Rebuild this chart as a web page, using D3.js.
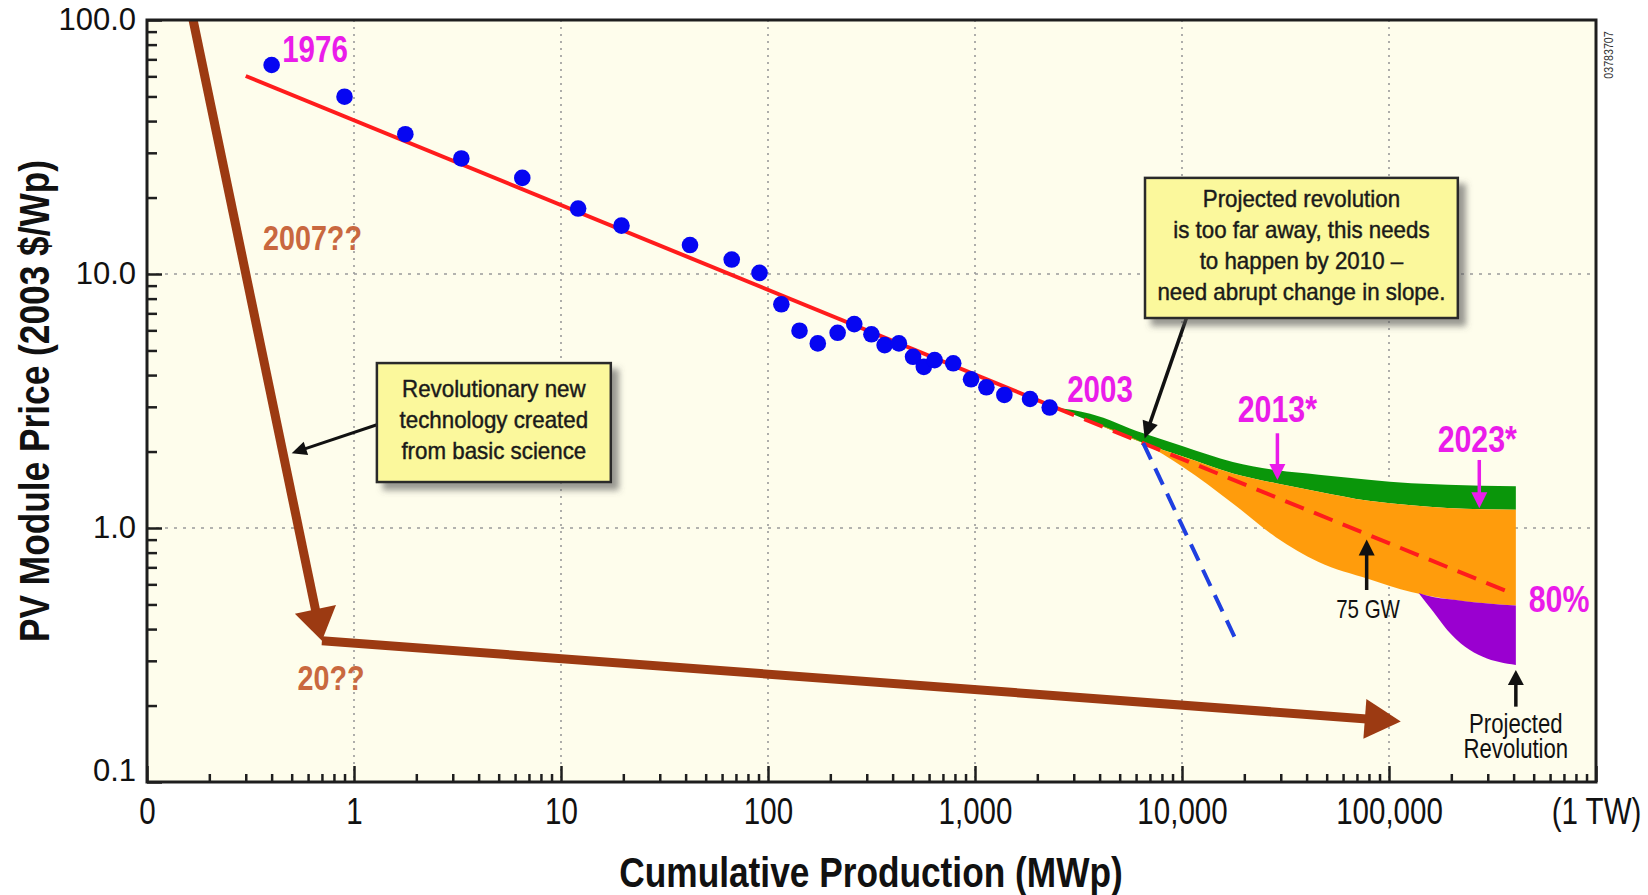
<!DOCTYPE html>
<html>
<head>
<meta charset="utf-8">
<script src="https://cdn.jsdelivr.net/npm/d3@7"></script>
<style>
  body { margin: 0; background: #fff; }
  svg { display: block; }
  text { font-family: "Liberation Sans", Arial, sans-serif; }
</style>
</head>
<body>
<svg id="chart" width="1648" height="895"></svg>
<script>
// historical module prices (blue dots), MWp vs 2003 $/Wp
const cum_mw = [0.40, 0.90, 1.77, 3.3, 6.5, 12.1, 19.6, 42, 66.8, 91, 116, 142, 174, 217, 261,
    316, 366, 429, 502, 566, 638, 785, 957, 1135, 1386, 1845, 2295];
const price = [66.5, 49.9, 35.5, 28.5, 23.9, 18.1, 15.5, 13.0, 11.4, 10.1, 7.6, 5.98, 5.33, 5.87, 6.35,
    5.79, 5.25, 5.33, 4.72, 4.31, 4.58, 4.45, 3.85, 3.58, 3.34, 3.22, 2.98];

// 80% experience curve
const fit_solid = [[0.3, 60.2], [2450, 2.98]];
const fit_dashed = [[2450, 2.98], [400000, 0.55]];

// the "abrupt change" line
const steep_line = [[6500, 2.16], [18000, 0.37]];

// projection bands
const proj_x = [2450, 3600, 6500, 10100, 17600, 28400, 45700, 79700, 128000, 191000, 410000];
const green_top = [2.98, 2.82, 2.36, 2.10, 1.82, 1.69, 1.62, 1.55, 1.50, 1.48, 1.46];
const orange_top = [2.98, 2.63, 2.16, 1.91, 1.64, 1.50, 1.39, 1.28, 1.23, 1.20, 1.18];
const orange_bottom = [2.98, 2.63, 2.16, 1.74, 1.25, 0.92, 0.735, 0.63, 0.56, 0.525, 0.495];

const rev_x = [139000, 163000, 191000, 233000, 284000, 410000];
const rev_top = [0.555, 0.535, 0.525, 0.515, 0.507, 0.495];
const rev_bottom = [0.555, 0.47, 0.397, 0.341, 0.311, 0.289];

// brown "revolution" path: drop, then the new curve
const rev_path = [[0.167, 100], [0.70, 0.36], [114000, 0.173]];

const x_ticks = [0.1, 1, 10, 100, 1e3, 1e4, 1e5, 1e6];
const x_tick_labels = ["0", "1", "10", "100", "1,000", "10,000", "100,000", "(1 TW)"];
const y_ticks = [0.1, 1, 10, 100];
const y_tick_labels = ["0.1", "1.0", "10.0", "100.0"];

const magenta = "#ea1cea";
const brown_text = "#c9683f";
const brown = "#9c3a12";

const svg = d3.select("svg#chart");

const x = d3.scaleLog().domain([0.1, 1e6]).range([147, 1596]);
const y = d3.scaleLog().domain([0.1, 100]).range([782, 20]);
const [x_left, x_right] = x.range();
const [y_bottom, y_top] = y.range();

const defs = svg.append("defs");
defs.append("filter").attr("id", "shadow")
    .attr("x", "-10%").attr("y", "-10%").attr("width", "130%").attr("height", "140%")
    .append("feDropShadow")
    .attr("dx", 7).attr("dy", 7).attr("stdDeviation", 3)
    .attr("flood-color", "#555").attr("flood-opacity", 0.6);
defs.append("clipPath").attr("id", "plot-clip").append("rect")
    .attr("x", x_left).attr("y", y_top)
    .attr("width", x_right - x_left).attr("height", y_bottom - y_top);

// background
svg.append("rect")
    .attr("x", x_left).attr("y", y_top)
    .attr("width", x_right - x_left).attr("height", y_bottom - y_top)
    .attr("fill", "#fefdec");

// dotted grid
const grid = svg.append("g").attr("stroke", "#9a9a9a").attr("stroke-width", 1.6);
grid.selectAll("line.v")
    .data(x_ticks.slice(1, -1))
    .join("line")
    .attr("x1", d => x(d)).attr("x2", d => x(d))
    .attr("y1", y_top).attr("y2", y_bottom)
    .attr("stroke-dasharray", "2,5");
grid.selectAll("line.h")
    .data(y_ticks.slice(1, -1))
    .join("line")
    .attr("y1", d => y(d)).attr("y2", d => y(d))
    .attr("x1", x_left).attr("x2", x_right)
    .attr("stroke-dasharray", "3,6");

const plot = svg.append("g").attr("clip-path", "url(#plot-clip)");

// projection bands
const band = (xs, top, bottom) => d3.area()
    .x((_, i) => x(xs[i]))
    .y0((_, i) => y(bottom[i]))
    .y1((_, i) => y(top[i]))
    .curve(d3.curveMonotoneX)(xs);

plot.append("path").attr("d", band(proj_x, green_top, orange_top)).attr("fill", "#0a960a");
plot.append("path").attr("d", band(proj_x, orange_top, orange_bottom)).attr("fill", "#ff9c0c");
plot.append("path").attr("d", band(rev_x, rev_top, rev_bottom)).attr("fill", "#9a00d0");

// fit lines
const line = d3.line().x(d => x(d[0])).y(d => y(d[1]));
plot.append("path").attr("d", line(fit_solid))
    .attr("fill", "none").attr("stroke", "#ff1c1c").attr("stroke-width", 4);
plot.append("path").attr("d", line(fit_dashed))
    .attr("fill", "none").attr("stroke", "#ff1c1c").attr("stroke-width", 4)
    .attr("stroke-dasharray", "20,11");
plot.append("path").attr("d", line(steep_line))
    .attr("fill", "none").attr("stroke", "#1f3fe0").attr("stroke-width", 4)
    .attr("stroke-dasharray", "18,10");

// historical points
plot.selectAll("circle")
    .data(cum_mw)
    .join("circle")
    .attr("cx", d => x(d))
    .attr("cy", (_, i) => y(price[i]))
    .attr("r", 8.3)
    .attr("fill", "#0606f2");

// arrows: line up to the head, then a filled head
function arrow(g, from, to, color, width, head, half) {
    const x0 = x(from[0]), y0 = y(from[1]);
    const x1 = x(to[0]), y1 = y(to[1]);
    const len = Math.hypot(x1 - x0, y1 - y0);
    const ux = (x1 - x0) / len, uy = (y1 - y0) / len;
    const bx = x1 - ux * head, by = y1 - uy * head;
    g.append("line")
        .attr("x1", x0).attr("y1", y0)
        .attr("x2", bx + ux * 2).attr("y2", by + uy * 2)
        .attr("stroke", color).attr("stroke-width", width);
    g.append("path")
        .attr("d", `M${x1},${y1}L${bx - uy * half},${by + ux * half}L${bx + uy * half},${by - ux * half}Z`)
        .attr("fill", color);
}

const arrows = plot.append("g");
arrow(arrows, rev_path[0], rev_path[1], brown, 9, 32, 21);
arrow(arrows, rev_path[1], rev_path[2], brown, 9, 36, 20);

arrow(arrows, [1.29, 2.55], [0.50, 1.97], "#111", 3, 15, 7);
arrow(arrows, [10500, 6.7], [6600, 2.25], "#111", 3.5, 17, 8);
arrow(arrows, [78000, 0.57], [78000, 0.90], "#111", 3.5, 16, 8);
arrow(arrows, [410000, 0.198], [410000, 0.276], "#111", 3.5, 15, 8);
arrow(arrows, [28900, 2.36], [28900, 1.545], magenta, 3.5, 16, 8);
arrow(arrows, [273000, 1.853], [273000, 1.196], magenta, 3.5, 16, 8);

// callout boxes
function callout(from, to, lines, first, step) {
    const bx = x(from[0]), by = y(from[1]);
    const bw = x(to[0]) - bx, bh = y(to[1]) - by;
    const g = svg.append("g");
    g.append("rect")
        .attr("x", bx).attr("y", by).attr("width", bw).attr("height", bh)
        .attr("fill", "#fbf89c").attr("stroke", "#2a2a2a").attr("stroke-width", 2.5)
        .attr("filter", "url(#shadow)");
    g.selectAll("text")
        .data(lines)
        .join("text")
        .attr("class", "box-text")
        .attr("x", bx + bw / 2)
        .attr("y", (_, i) => by + first + i * step)
        .attr("text-anchor", "middle")
        .attr("font-size", 24)
        .attr("fill", "#1a1a1a")
        .attr("stroke", "#1a1a1a").attr("stroke-width", 0.45)
        .text(d => d);
}
callout([1.29, 4.46], [17.4, 1.517],
    ["Revolutionary new", "technology created", "from basic science"], 34, 31);
callout([6627, 23.9], [215000, 6.71],
    ["Projected revolution", "is too far away, this needs", "to happen by 2010 \u2013", "need abrupt change in slope."], 29, 31);

// year and rate labels
const tag = (txt, at, color, size) => svg.append("text")
    .attr("class", "narrow")
    .attr("x", x(at[0])).attr("y", y(at[1]))
    .attr("text-anchor", "middle")
    .attr("font-weight", "bold")
    .attr("font-size", size)
    .attr("fill", color)
    .text(txt);
tag("1976", [0.648, 68.5], magenta, 36);
tag("2007??", [0.63, 12.4], brown_text, 35);
tag("20??", [0.774, 0.230], brown_text, 35);
tag("2003", [4018, 3.14], magenta, 36);
tag("2013*", [28900, 2.62], magenta, 37);
tag("2023*", [267000, 2.00], magenta, 37);
tag("80%", [663000, 0.468], magenta, 37);

const note = (txt, at, size) => svg.append("text")
    .attr("class", "narrow")
    .attr("x", x(at[0])).attr("y", y(at[1]))
    .attr("text-anchor", "middle")
    .attr("font-size", size)
    .attr("fill", "#111")
    .text(txt);
note("75 GW", [79200, 0.442], 25);
note("Projected", [410000, 0.156], 27);
note("Revolution", [410000, 0.124], 27);

// frame
svg.append("rect")
    .attr("x", x_left).attr("y", y_top)
    .attr("width", x_right - x_left).attr("height", y_bottom - y_top)
    .attr("fill", "none").attr("stroke", "#1e1e1e").attr("stroke-width", 3);

// minor ticks (inside)
const minor_x = x.ticks().filter(d => !x_ticks.includes(d));
const minor_y = y.ticks().filter(d => !y_ticks.includes(d));

const ax_minor = svg.append("g")
    .attr("transform", `translate(0,${y_bottom})`)
    .call(d3.axisBottom(x).tickValues(minor_x).tickSize(-8).tickFormat(""));
const ay_minor = svg.append("g")
    .attr("transform", `translate(${x_left},0)`)
    .call(d3.axisLeft(y).tickValues(minor_y).tickSize(-10).tickFormat(""));

const ax = svg.append("g")
    .attr("transform", `translate(0,${y_bottom})`)
    .call(d3.axisBottom(x).tickValues(x_ticks).tickSize(-16).tickPadding(16)
        .tickFormat((_, i) => x_tick_labels[i]));
ax.attr("font-family", null).attr("font-size", null);
ax.selectAll("text").attr("class", "narrow").attr("font-size", 36).attr("fill", "#111");

const ay = svg.append("g")
    .attr("transform", `translate(${x_left},0)`)
    .call(d3.axisLeft(y).tickValues(y_ticks).tickSize(-15).tickPadding(11)
        .tickFormat((_, i) => y_tick_labels[i]));
ay.attr("font-family", null).attr("font-size", null);
ay.selectAll("text").attr("font-size", 31).attr("fill", "#111")
    .attr("y", d => d === 0.1 ? -11 : 0);

for (const a of [ax_minor, ay_minor, ax, ay]) {
    a.select(".domain").remove();
    a.selectAll(".tick line").attr("stroke", "#1e1e1e").attr("stroke-width", 2.5);
}

// axis titles
svg.append("text")
    .attr("class", "narrow")
    .attr("x", 871).attr("y", 887)
    .attr("text-anchor", "middle")
    .attr("font-weight", "bold").attr("font-size", 43)
    .attr("fill", "#111")
    .text("Cumulative Production (MWp)");
svg.append("text")
    .attr("class", "narrow")
    .attr("transform", "translate(49,401) rotate(-90)")
    .attr("text-anchor", "middle")
    .attr("font-weight", "bold").attr("font-size", 43)
    .attr("fill", "#111")
    .text("PV Module Price (2003 $/Wp)");

// figure id
svg.append("text")
    .attr("class", "narrow")
    .attr("transform", "translate(1613,55) rotate(-90)")
    .attr("text-anchor", "middle")
    .attr("font-size", 13)
    .attr("fill", "#333")
    .text("03783707");

// no narrow face installed: squeeze the regular one to condensed width
svg.selectAll("text.narrow").each(function () {
    const w = this.getComputedTextLength();
    d3.select(this).attr("textLength", w * 0.82).attr("lengthAdjust", "spacingAndGlyphs");
});
svg.selectAll("text.box-text").each(function () {
    const w = this.getComputedTextLength();
    d3.select(this).attr("textLength", w * 0.93).attr("lengthAdjust", "spacingAndGlyphs");
});
</script>
</body>
</html>
